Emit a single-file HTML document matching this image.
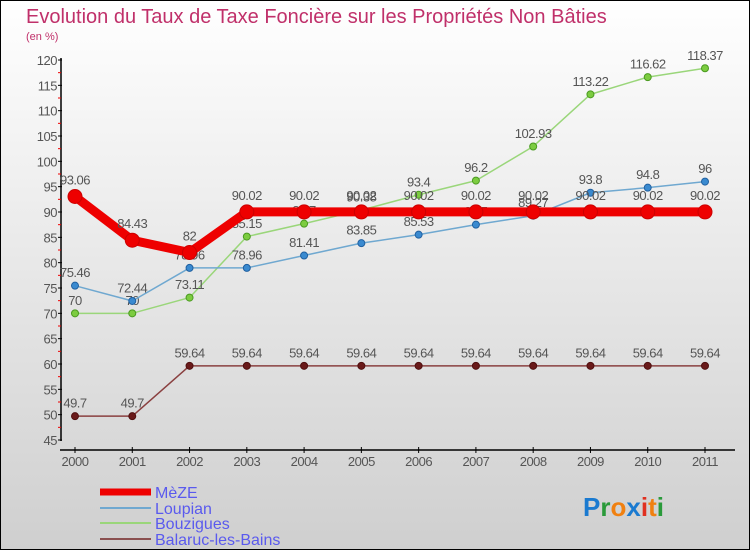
<!DOCTYPE html>
<html><head><meta charset="utf-8"><style>
body{margin:0;}
svg{display:block;font-family:"Liberation Sans",sans-serif;}
</style></head><body>
<svg width="750" height="550" viewBox="0 0 750 550">
<defs><linearGradient id="bg" x1="0" y1="0" x2="0" y2="1"><stop offset="0" stop-color="#ffffff"/><stop offset="1" stop-color="#cfcfcf"/></linearGradient></defs>
<rect x="0.5" y="0.5" width="749" height="549" fill="url(#bg)" stroke="#000"/>
<text x="26" y="23" font-size="20" fill="#c0306a">Evolution du Taux de Taxe Foncière sur les Propriétés Non Bâties</text>
<text x="26" y="40" font-size="11" fill="#c0306a">(en %)</text>
<g id="axes"></g>
<g id="series"></g>
<g>
<line x1="100" y1="492" x2="151" y2="492" stroke="#ee0000" stroke-width="7"/>
<text x="155" y="498" font-size="16" fill="#5a5aee">MèZE</text>
<line x1="100" y1="508" x2="151" y2="508" stroke="#6fa8d0" stroke-width="2"/>
<text x="155" y="514" font-size="16" fill="#5a5aee">Loupian</text>
<line x1="100" y1="523" x2="151" y2="523" stroke="#9ad67a" stroke-width="2"/>
<text x="155" y="529" font-size="16" fill="#5a5aee">Bouzigues</text>
<line x1="100" y1="539" x2="151" y2="539" stroke="#8a5050" stroke-width="2"/>
<text x="155" y="545" font-size="16" fill="#5a5aee">Balaruc-les-Bains</text>
</g>
<g font-size="26" font-weight="bold">
<text x="583" y="516"><tspan fill="#1a7ad0">P</tspan><tspan fill="#2a9a3a">r</tspan><tspan fill="#f08010">o</tspan><tspan fill="#1a7ad0">x</tspan><tspan fill="#e03020">i</tspan><tspan fill="#f08010">t</tspan><tspan fill="#2a9a3a">i</tspan></text>
</g>
</svg>
<script>
const years=["2000","2001","2002","2003","2004","2005","2006","2007","2008","2009","2010","2011"];
const yTicks=[45,50,55,60,65,70,75,80,85,90,95,100,105,110,115,120];
const meze=[93.06,84.43,82,90.02,90.02,90.02,90.02,90.02,90.02,90.02,90.02,90.02];
const loupian=[75.46,72.44,78.96,78.96,81.41,83.85,85.53,87.5,89.27,93.8,94.8,96];
const bouzigues=[70,70,73.11,85.15,87.7,90.38,93.4,96.2,102.93,113.22,116.62,118.37];
const balaruc=[49.7,49.7,59.64,59.64,59.64,59.64,59.64,59.64,59.64,59.64,59.64,59.64];
const NS="http://www.w3.org/2000/svg";
const xS=i=>75+i*(705-75)/11;
const yS=v=>440-(v-45)*(380/75);
function mk(tag,attrs,parent,txt){const e=document.createElementNS(NS,tag);for(const k in attrs)e.setAttribute(k,attrs[k]);if(txt!==undefined)e.textContent=txt;parent.appendChild(e);return e;}
const ax=document.getElementById('axes');
let l=mk('line',{x1:61,y1:58,x2:61,y2:441,stroke:'#000','stroke-width':1.5},ax);


l=mk('line',{x1:60,y1:450,x2:735,y2:450,stroke:'#000','stroke-width':1.5},ax);


yTicks.forEach((v,i)=>{const y=yS(v);
mk('line',{x1:58,y1:y,x2:62,y2:y,stroke:'#000'},ax);
if(i<yTicks.length-1){mk('line',{x1:58,y1:yS(v+2.5),x2:61,y2:yS(v+2.5),stroke:'#e00'},ax);}
const t=mk('text',{x:57,y:y+5,'font-size':13,fill:'#555','text-anchor':'end','letter-spacing':'-0.5'},ax,String(v));

});
years.forEach((yr,i)=>{const x=xS(i);
mk('line',{x1:x,y1:447,x2:x,y2:453,stroke:'#000'},ax);
const t=mk('text',{x:x,y:466,'font-size':13,fill:'#555','text-anchor':'middle','letter-spacing':'-0.5'},ax,yr);

});
const sg=document.getElementById('series');
function draw(name,data,color,w,r,fill,stroke){
const g=mk('g',{},sg);


const p=mk('polyline',{points:data.map((v,i)=>xS(i)+','+yS(v)).join(' '),fill:'none',stroke:color,'stroke-width':w,'stroke-linejoin':'round'},g);


data.forEach((v,i)=>{const c=mk('circle',{cx:xS(i),cy:yS(v),r:r,fill:fill,stroke:stroke,'stroke-width':1},g);


const t=mk('text',{x:xS(i),y:yS(v)-r-5,'font-size':13,fill:'#555','text-anchor':'middle','letter-spacing':'-0.5'},g,String(v));

});}
draw('balaruc',balaruc,'#8a4040',1.5,3.5,'#6a1a1a','#501010');
draw('bouzigues',bouzigues,'#9ad67a',1.5,3.5,'#7ccc40','#4a9a20');
draw('loupian',loupian,'#6fa8d0',1.5,3.5,'#3a8ad0','#2060a0');
draw('meze',meze,'#ee0000',9,7,'#ee0000','#cc0000');
</script>
</body></html>
